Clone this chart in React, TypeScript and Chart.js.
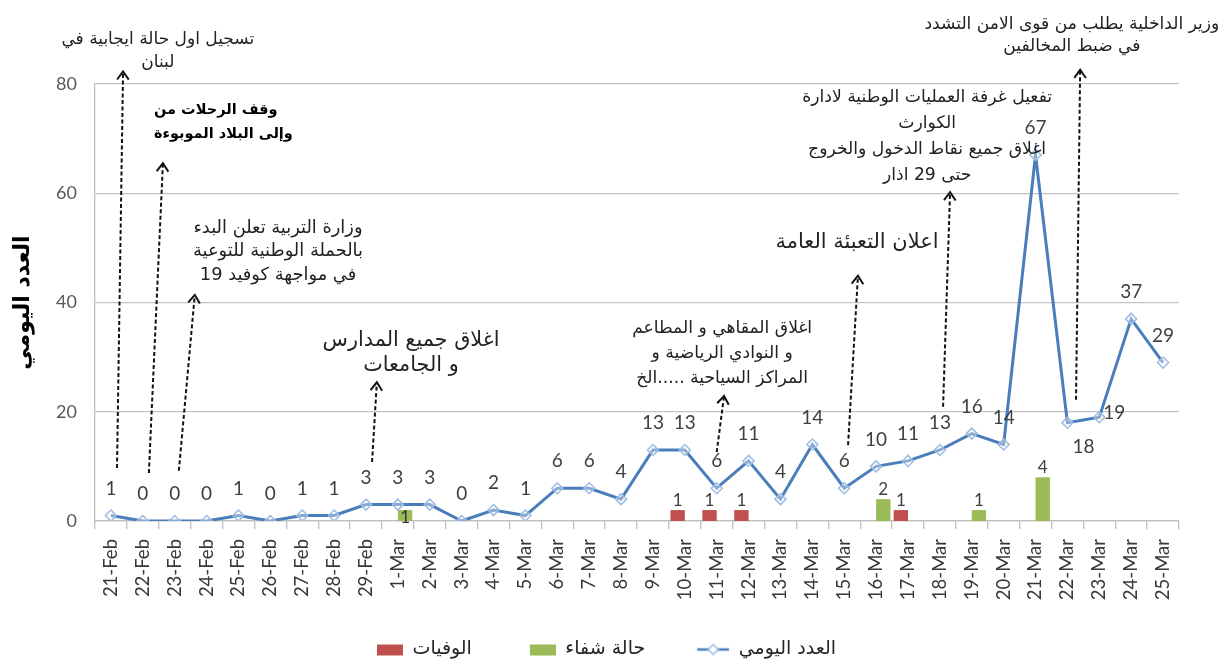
import React, { useEffect, useRef } from 'react';
import { Chart, registerables } from 'chart.js';

Chart.register(...registerables);

// ---------- data ----------
const categories = [
  '21-Feb', '22-Feb', '23-Feb', '24-Feb', '25-Feb', '26-Feb', '27-Feb', '28-Feb', '29-Feb',
  '1-Mar', '2-Mar', '3-Mar', '4-Mar', '5-Mar', '6-Mar', '7-Mar', '8-Mar', '9-Mar', '10-Mar',
  '11-Mar', '12-Mar', '13-Mar', '14-Mar', '15-Mar', '16-Mar', '17-Mar', '18-Mar', '19-Mar',
  '20-Mar', '21-Mar', '22-Mar', '23-Mar', '24-Mar', '25-Mar',
];
const dailyCases = [
  1, 0, 0, 0, 1, 0, 1, 1, 3,
  3, 3, 0, 2, 1, 6, 6, 4, 13, 13,
  6, 11, 4, 14, 6, 10, 11, 13, 16,
  14, 67, 18, 19, 37, 29,
];
const deaths = [
  null, null, null, null, null, null, null, null, null,
  null, null, null, null, null, null, null, null, null, 1,
  1, 1, null, null, null, null, 1, null, null,
  null, null, null, null, null, null,
];
const recoveries = [
  null, null, null, null, null, null, null, null, null,
  1, null, null, null, null, null, null, null, null, null,
  null, null, null, null, null, 2, null, null, 1,
  null, 4, null, null, null, null,
];
const seriesNames = ['العدد اليومي', 'الوفيات', 'حالة شفاء'];
const yTitle = 'العدد اليومي';
const annotationTexts = [
  ['تسجيل اول حالة ايجابية في', 'لبنان'],
  ['وقف الرحلات من', 'وإلى البلاد الموبوءة'],
  ['وزارة التربية تعلن البدء', 'بالحملة الوطنية للتوعية', 'في مواجهة كوفيد 19'],
  ['اغلاق جميع المدارس', 'و الجامعات'],
  ['اغلاق المقاهي و المطاعم', 'و النوادي الرياضية و', 'المراكز السياحية .....الخ'],
  ['اعلان التعبئة العامة'],
  ['تفعيل غرفة العمليات الوطنية لادارة', 'الكوارث', 'اغلاق جميع نقاط الدخول والخروج', 'حتى 29 اذار'],
  ['وزير الداخلية يطلب من قوى الامن التشدد', 'في ضبط المخالفين'],
];

// ---------- styling / placement config (data space: [category index, value]) ----------
const ARABIC_FONT = '"DejaVu Sans", sans-serif';
const NUM_FONT = 'Lato, "Open Sans", sans-serif';
const annotationLayout = [
  { tail: [0.19, 9.7], head: [0.38, 82.3], text: [1.47, 88.1], lh: 23, width: 193, size: 15, bold: false, align: 'center' },
  { tail: [1.19, 8.8], head: [1.63, 65.5], text: [1.35, 75.2], lh: 24, width: 139, size: 15, bold: true, align: 'left' },
  { tail: [2.13, 9.2], head: [2.63, 41.4], text: [5.24, 53.6], lh: 23.5, width: 170, size: 15, bold: false, align: 'center' },
  { tail: [8.19, 10.8], head: [8.34, 25.4], text: [9.41, 33.1], lh: 25, width: 177, size: 16, bold: false, align: 'center' },
  { tail: [19.0, 12.6], head: [19.23, 22.9], text: [19.17, 35.3], lh: 25, width: 180, size: 16, bold: false, align: 'center' },
  { tail: [23.12, 13.9], head: [23.43, 44.9], text: [23.4, 50.9], lh: 25, width: 163, size: 18, bold: false, align: 'center' },
  { tail: [26.1, 20.9], head: [26.32, 60.2], text: [25.6, 77.6], lh: 26, width: 250, size: 16, bold: false, align: 'center' },
  { tail: [30.27, 22.2], head: [30.4, 82.6], text: [30.14, 90.8], lh: 22, width: 295, size: 16, bold: false, align: 'center' },
];
const linePlacement: Record<number, string> = { 30: 'belowRight', 31: 'right' };
const barPlacement: Record<string, string> = { '2-9': 'inside' };

const LINE_COLOR = '#4a7ebb';
const MARKER_COLOR = '#9cbbe2';
const RED = '#c0504d';
const GREEN = '#9bbb59';
const LEGEND_FONT_SIZE = 19;
const LEGEND_PAD = 24;
const ICON_W = 60;
const PAD_BOTTOM = -7;

function makeIcon(kind: string, color: string) {
  const c = document.createElement('canvas');
  c.width = ICON_W;
  c.height = 14;
  const g = c.getContext('2d')!;
  if (kind === 'line') {
    const x0 = ICON_W - 32;
    const cx = x0 + 16;
    g.strokeStyle = LINE_COLOR;
    g.lineWidth = 2.5;
    g.beginPath();
    g.moveTo(x0, 7);
    g.lineTo(ICON_W, 7);
    g.stroke();
    g.fillStyle = '#ffffff';
    g.strokeStyle = MARKER_COLOR;
    g.lineWidth = 1.5;
    g.beginPath();
    g.moveTo(cx - 5, 7);
    g.lineTo(cx, 2);
    g.lineTo(cx + 5, 7);
    g.lineTo(cx, 12);
    g.closePath();
    g.fill();
    g.stroke();
  } else {
    g.fillStyle = color;
    g.fillRect(ICON_W - 26, 2, 26, 11);
  }
  return c;
}

const overlayPlugin = {
  id: 'overlay',
  afterDatasetsDraw(chart: any) {
    const ctx = chart.ctx as CanvasRenderingContext2D;
    ctx.save();
    // line labels
    ctx.font = `19px ${NUM_FONT}`;
    ctx.fillStyle = '#404040';
    ctx.textBaseline = 'middle';
    const lm = chart.getDatasetMeta(0);
    lm.data.forEach((pt: any, i: number) => {
      const v = dailyCases[i];
      const p = linePlacement[i] || 'above';
      let tx = pt.x;
      let ty = pt.y - 27;
      let al: CanvasTextAlign = 'center';
      if (p === 'belowRight') {
        tx = pt.x + 16;
        ty = pt.y + 24;
      } else if (p === 'right') {
        tx = pt.x + 4;
        ty = pt.y - 4;
        al = 'left';
      }
      ctx.textAlign = al;
      ctx.fillText(String(v), tx, ty);
    });
    // bar labels
    ctx.font = `17px ${NUM_FONT}`;
    ctx.textAlign = 'center';
    [1, 2].forEach((di) => {
      const vals = di === 1 ? deaths : recoveries;
      const meta = chart.getDatasetMeta(di);
      meta.data.forEach((bar: any, i: number) => {
        const v = vals[i];
        if (v == null) return;
        const p = barPlacement[`${di}-${i}`];
        ctx.fillStyle = p === 'inside' ? '#333' : '#404040';
        const ty = p === 'inside' ? bar.base - 3 : bar.y - 10;
        ctx.fillText(String(v), bar.x, ty);
      });
    });
    ctx.restore();
  },
  afterDraw(chart: any) {
    const ctx = chart.ctx as CanvasRenderingContext2D;
    const xs = chart.scales.x;
    const ys = chart.scales.y;
    ctx.save();
    annotationLayout.forEach((a, k) => {
      const lines = annotationTexts[k];
      const tx = xs.getPixelForValue(a.tail[0]);
      const ty = ys.getPixelForValue(a.tail[1]);
      const hx = xs.getPixelForValue(a.head[0]);
      const hy = ys.getPixelForValue(a.head[1]);
      ctx.strokeStyle = '#111';
      ctx.lineWidth = 2;
      ctx.setLineDash([4, 2.5]);
      ctx.beginPath();
      ctx.moveTo(tx, ty);
      ctx.lineTo(hx, hy);
      ctx.stroke();
      ctx.setLineDash([]);
      const ang = Math.atan2(hy - ty, hx - tx);
      const L = 10;
      const sp = 0.62;
      ctx.beginPath();
      ctx.moveTo(hx - L * Math.cos(ang - sp), hy - L * Math.sin(ang - sp));
      ctx.lineTo(hx, hy);
      ctx.lineTo(hx - L * Math.cos(ang + sp), hy - L * Math.sin(ang + sp));
      ctx.stroke();

      // text
      const weight = a.bold ? 'bold ' : '';
      ctx.font = `${weight}${a.size}px ${ARABIC_FONT}`;
      ctx.direction = 'rtl';
      let m = 0;
      lines.forEach((l) => { m = Math.max(m, ctx.measureText(l).width); });
      const size = a.size * (a.width / m);
      ctx.font = `${weight}${size.toFixed(2)}px ${ARABIC_FONT}`;
      ctx.fillStyle = a.bold ? '#000' : '#222';
      ctx.textBaseline = 'middle';
      ctx.textAlign = a.align as CanvasTextAlign;
      const px = xs.getPixelForValue(a.text[0]);
      const py = ys.getPixelForValue(a.text[1]);
      lines.forEach((l, i) => ctx.fillText(l, px, py + i * a.lh));
    });
    ctx.restore();
  },
};

export default function App() {
  const ref = useRef<HTMLCanvasElement | null>(null);
  useEffect(() => {
    document.body.style.margin = '0';
    const icons = [makeIcon('line', LINE_COLOR), makeIcon('rect', RED), makeIcon('rect', GREEN)];
    const rank: Record<number, number> = { 1: 0, 2: 1, 0: 2 };
    const legendHeight = LEGEND_FONT_SIZE + LEGEND_PAD + 10;
    const chart = new Chart(ref.current!, {
      type: 'bar',
      data: {
        labels: categories,
        datasets: [
          {
            type: 'line',
            label: seriesNames[0],
            data: dailyCases,
            yAxisID: 'y',
            order: 0,
            borderColor: LINE_COLOR,
            borderWidth: 3,
            pointStyle: 'rectRot',
            pointRadius: 5.5,
            pointBorderColor: MARKER_COLOR,
            pointBackgroundColor: 'rgba(255,255,255,0.35)',
            pointBorderWidth: 1.5,
            tension: 0,
          } as any,
          {
            type: 'bar',
            label: seriesNames[1],
            data: deaths,
            yAxisID: 'y2',
            order: 1,
            backgroundColor: RED,
            categoryPercentage: 0.9,
            barPercentage: 1.0,
          },
          {
            type: 'bar',
            label: seriesNames[2],
            data: recoveries,
            yAxisID: 'y2',
            order: 1,
            backgroundColor: GREEN,
            categoryPercentage: 0.9,
            barPercentage: 1.0,
          },
        ],
      },
      options: {
        responsive: false,
        animation: false,
        devicePixelRatio: 1,
        layout: { padding: { top: 84, right: 44, left: 0, bottom: PAD_BOTTOM } },
        plugins: {
          tooltip: { enabled: false },
          legend: {
            position: 'bottom',
            labels: {
              usePointStyle: true,
              pointStyleWidth: ICON_W,
              padding: LEGEND_PAD,
              color: '#262626',
              font: { family: ARABIC_FONT, size: LEGEND_FONT_SIZE },
              sort: (a: any, b: any) => rank[a.datasetIndex] - rank[b.datasetIndex],
              generateLabels: (c: any) => {
                const items = Chart.defaults.plugins.legend.labels.generateLabels(c);
                return items.map((it: any) => ({ ...it, pointStyle: icons[it.datasetIndex], lineWidth: 0 }));
              },
            },
          },
        },
        scales: {
          x: {
            offset: true,
            grid: { offset: true, drawOnChartArea: false, drawTicks: true, tickLength: 8, color: '#bfbfbf', lineWidth: 1.3 },
            border: { color: '#bfbfbf', width: 1.3 },
            ticks: {
              minRotation: 90,
              maxRotation: 90,
              autoSkip: false,
              padding: 10,
              color: '#383838',
              font: { family: NUM_FONT, size: 18.5 },
            },
            afterFit: (s: any) => { s.height = 662 - PAD_BOTTOM - legendHeight - 521; },
          },
          y: {
            min: 0,
            max: 80,
            ticks: { stepSize: 20, padding: 18, color: '#595959', font: { family: NUM_FONT, size: 18 } },
            grid: { color: '#c4c4c4', lineWidth: 1.3, drawTicks: false },
            border: { color: '#bfbfbf', width: 1.3 },
            title: {
              display: true,
              text: yTitle,
              color: '#000',
              font: { family: ARABIC_FONT, size: 22, weight: 'bold' },
              padding: { top: 10, bottom: 0 },
            },
            afterFit: (s: any) => { s.width = 95; },
          },
          y2: { display: false, min: 0, max: 40 },
        },
      } as any,
      plugins: [overlayPlugin],
    });
    return () => chart.destroy();
  }, []);
  return (
    <div style={{ width: 1223, height: 662 }}>
      <canvas ref={ref} width={1223} height={662} style={{ display: 'block' }} />
    </div>
  );
}
